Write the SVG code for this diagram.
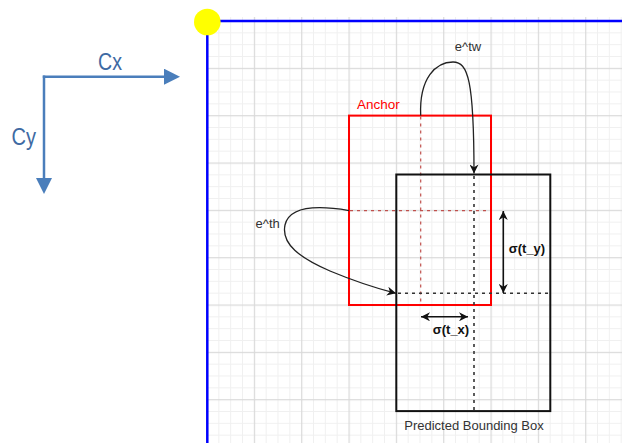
<svg xmlns="http://www.w3.org/2000/svg" width="622" height="443" viewBox="0 0 622 443">
  <defs>
    <pattern id="grid" patternUnits="userSpaceOnUse" x="206.5" y="20.5" width="47.333" height="47.333">
      <rect x="11.83" y="0" width="1" height="47.333" fill="#f0f0f0"/>
      <rect x="23.67" y="0" width="1" height="47.333" fill="#f0f0f0"/>
      <rect x="35.5" y="0" width="1" height="47.333" fill="#f0f0f0"/>
      <rect x="0" y="11.83" width="47.333" height="1" fill="#f0f0f0"/>
      <rect x="0" y="23.67" width="47.333" height="1" fill="#f0f0f0"/>
      <rect x="0" y="35.5" width="47.333" height="1" fill="#f0f0f0"/>
      <rect x="0" y="0" width="1.2" height="47.333" fill="#d9d9d9"/>
      <rect x="0" y="0" width="47.333" height="1.2" fill="#d9d9d9"/>
    </pattern>
    <marker id="arr" viewBox="0 0 10 10" refX="10" refY="5" markerUnits="userSpaceOnUse" markerWidth="10" markerHeight="9" orient="auto-start-reverse">
      <path d="M0,0 L10,5 L0,10 L3,5 Z" fill="#111"/>
    </marker>
    <marker id="barr" viewBox="0 0 16 16" refX="0" refY="8" markerUnits="userSpaceOnUse" markerWidth="16" markerHeight="16" orient="auto">
      <path d="M0,0 L16,8 L0,16 Z" fill="#4a7ebb"/>
    </marker>
    <style>
      .t { font-family: "Liberation Sans", Arial, sans-serif; }
      .lbl { font-size: 13px; fill: #333; }
      .bold { font-size: 13px; font-weight: bold; fill: #111; }
      .ax { font-size: 23px; fill: #3e6aa3; }
      .curve { fill: none; stroke: #222; stroke-width: 1.3; }
      .reddash { fill: none; stroke: #c0504d; stroke-width: 1.2; stroke-dasharray: 3 4; }
      .blkdash { fill: none; stroke: #333; stroke-width: 1.6; stroke-dasharray: 3 4; }
      .dbl { fill: none; stroke: #111; stroke-width: 1.6; }
      .axis { fill: none; stroke: #4a7ebb; stroke-width: 2.5; }
    </style>
  </defs>

  <rect x="0" y="0" width="622" height="443" fill="#ffffff"/>

  <!-- grid canvas -->
  <rect x="207" y="17" width="415" height="426" fill="url(#grid)"/>

  <!-- blue frame -->
  <g id="frame">
    <line x1="207.3" y1="21" x2="622" y2="21" stroke="#0000ff" stroke-width="2.5"/>
    <line x1="207.3" y1="21" x2="207.3" y2="443" stroke="#0000ff" stroke-width="2.5"/>
    <circle cx="207.3" cy="22" r="13.3" fill="#ffff00"/>
  </g>

  <!-- axes legend -->
  <g id="axes">
    <line class="axis" x1="42.8" y1="76.7" x2="164" y2="76.7" marker-end="url(#barr)"/>
    <line class="axis" x1="44" y1="75.5" x2="44" y2="178" marker-end="url(#barr)"/>
    <text class="t ax" x="98" y="70" textLength="24" lengthAdjust="spacingAndGlyphs">Cx</text>
    <text class="t ax" x="11.5" y="145" textLength="24.5" lengthAdjust="spacingAndGlyphs">Cy</text>
  </g>

  <!-- anchor -->
  <g id="anchor">
    <rect x="349" y="115.6" width="142" height="189.4" fill="none" stroke="#ff0000" stroke-width="2"/>
    <line class="reddash" x1="420.7" y1="116.6" x2="420.7" y2="304"/>
    <line class="reddash" x1="350" y1="210.7" x2="490" y2="210.7"/>
    <text class="t" x="357" y="109" font-size="13.5" fill="#ff0000">Anchor</text>
  </g>

  <!-- predicted bounding box -->
  <g id="predicted">
    <rect x="396.3" y="174.5" width="154" height="236.6" fill="none" stroke="#111" stroke-width="2"/>
    <line class="blkdash" x1="474" y1="176" x2="474" y2="410"/>
    <line class="blkdash" x1="398" y1="293.3" x2="550" y2="293.3"/>
    <text class="t" x="474" y="429.5" font-size="13" fill="#333" text-anchor="middle">Predicted Bounding Box</text>
  </g>

  <!-- connectors -->
  <g id="connectors">
    <path class="curve" d="M420.7,115.6 C419,78 436,62 453,62 C468,62 474,80 474,173.5" marker-end="url(#arr)"/>
    <path class="curve" d="M349,210.6 C322,206 290,204 285,225 C281,244 300,258 330,271 C354,281 375,288 396,293.3" marker-end="url(#arr)"/>
    <line class="dbl" x1="503.3" y1="211" x2="503.3" y2="293" marker-start="url(#arr)" marker-end="url(#arr)"/>
    <line class="dbl" x1="421" y1="316.8" x2="468" y2="316.8" marker-start="url(#arr)" marker-end="url(#arr)"/>
  </g>

  <!-- labels -->
  <g id="labels">
    <text class="t lbl" x="468" y="50.5" text-anchor="middle">e^tw</text>
    <text class="t lbl" x="267.7" y="227.5" text-anchor="middle">e^th</text>
    <text class="t bold" x="527" y="252.7" text-anchor="middle">σ(t_y)</text>
    <text class="t bold" x="451" y="334.3" text-anchor="middle">σ(t_x)</text>
  </g>
</svg>
